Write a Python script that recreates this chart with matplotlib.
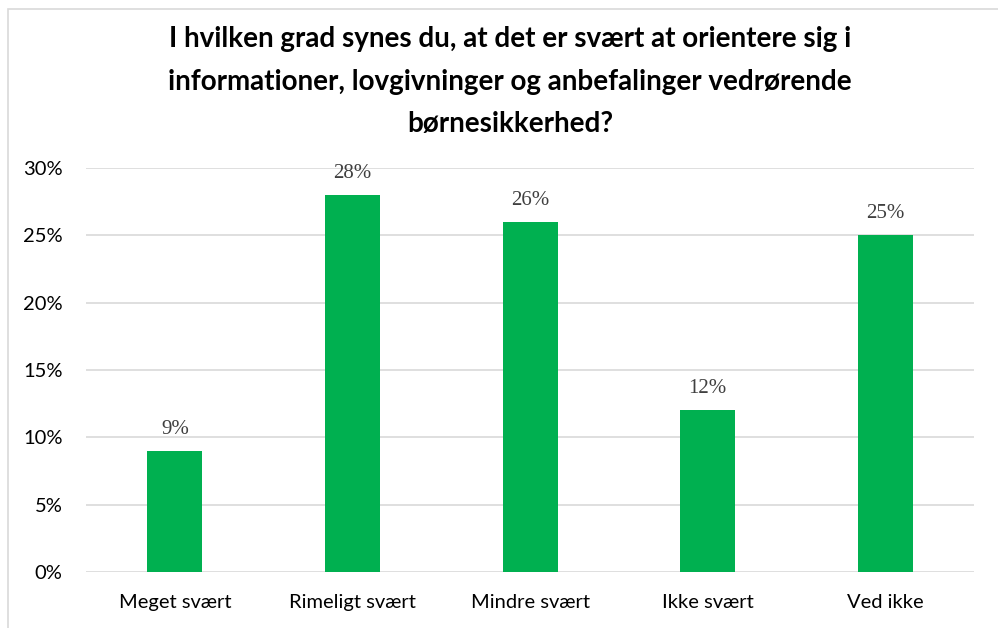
import matplotlib.pyplot as plt
from matplotlib.patches import Rectangle
from matplotlib.ticker import FuncFormatter

categories = ["Meget svært", "Rimeligt svært", "Mindre svært", "Ikke svært", "Ved ikke"]
values = [9, 28, 26, 12, 25]
title = ("I hvilken grad synes du, at det er svært at orientere sig i\n"
         "informationer, lovgivninger og anbefalinger vedrørende\n"
         "børnesikkerhed?")

plt.rcParams['font.family'] = ['Lato', 'DejaVu Sans']

fig = plt.figure(figsize=(9.98, 6.28), dpi=100)
ax = fig.add_axes([0.0862, 0.0892, 0.8898, 0.6433])

xs = range(len(categories))
ax.bar(xs, values, width=0.31, color='#00B050', zorder=3)
for x, v in zip(xs, values):
    ax.text(x, v + 0.9, f"{v}%", ha='center', va='bottom', fontsize=15,
            family=['Liberation Serif'], color='#404040')

ax.set_xlim(-0.5, len(categories) - 0.5)
ax.set_ylim(0, 30)
ax.set_yticks(range(0, 31, 5))
ax.yaxis.set_major_formatter(FuncFormatter(lambda v, p: f"{int(v)}%"))
ax.set_xticks(list(xs))
ax.set_xticklabels(categories)
ax.tick_params(axis='both', length=0, labelsize=14.5, colors='black', pad=16)
ax.tick_params(axis='y', pad=17)
ax.grid(axis='y', color='#d9d9d9', linewidth=1.2, zorder=0)
for s in ax.spines.values():
    s.set_visible(False)

fig.text(0.511, 0.958, title, ha='center', va='top', fontsize=20,
         fontweight='bold', linespacing=1.78)

fig.patches.append(Rectangle((8 / 998, -0.1), 1.2, 1 - 9 / 628 + 0.1,
                             transform=fig.transFigure, fill=False,
                             edgecolor='#d9d9d9', linewidth=1.2))

fig.savefig('out.png', dpi=100)
